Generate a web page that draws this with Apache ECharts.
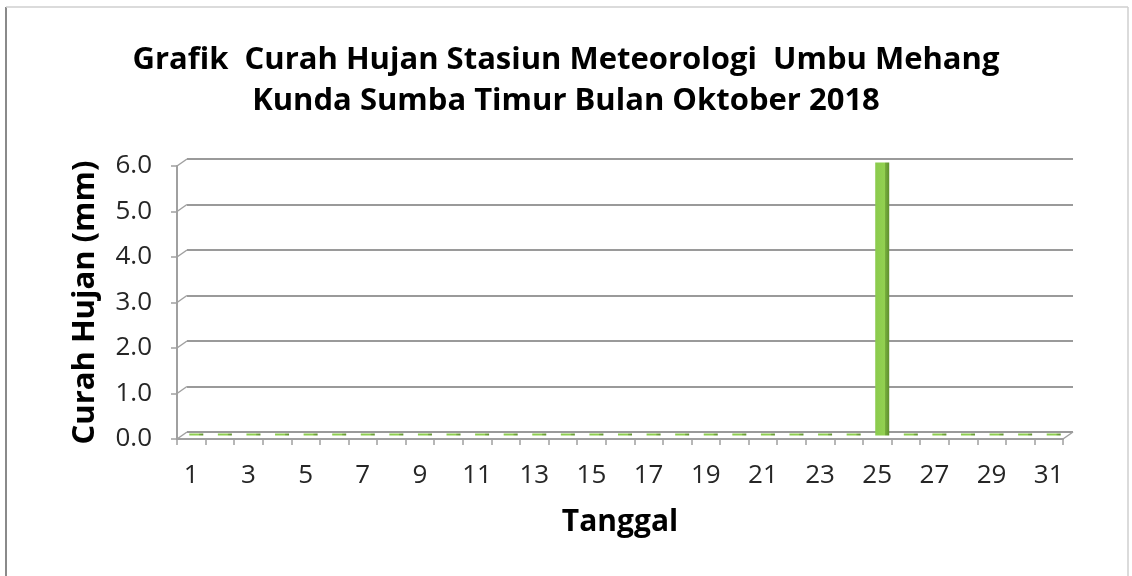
<!DOCTYPE html>
<html>
<head>
<meta charset="utf-8">
<script src="https://cdn.jsdelivr.net/npm/echarts@6/dist/echarts.min.js"></script>
<style>
html,body{margin:0;padding:0;background:#fff;}
#chart{width:1132px;height:576px;}
</style>
</head>
<body>
<div id="chart"></div>
<script>
// ---- data ----
var days = ['1','2','3','4','5','6','7','8','9','10','11','12','13','14','15','16','17','18','19','20','21','22','23','24','25','26','27','28','29','30','31'];
var rainfall = [0,0,0,0,0,0,0,0,0,0,0,0,0,0,0,0,0,0,0,0,0,0,0,0,6.0,0,0,0,0,0,0];
var yTicks = [0,1,2,3,4,5,6];
var titleText = 'Grafik  Curah Hujan Stasiun Meteorologi  Umbu Mehang\nKunda Sumba Timur Bulan Oktober 2018';
var yName = 'Curah Hujan (mm)';
var xName = 'Tanggal';

// ---- layout ----
var W = 1132, H = 576;
var front = {left:177, right:1063, top:166, bottom:439};
var dx = 10, dy = -7;
var back = {left:front.left+dx, right:front.right+dx, top:front.top+dy, bottom:front.bottom+dy};
var mid = {left:front.left+dx/2, right:front.right+dx/2, top:front.top+dy/2, bottom:front.bottom+dy/2};
function g(r){return {left:r.left, top:r.top, width:r.right-r.left, height:r.bottom-r.top, containLabel:false};}

var FONT = '"Open Sans", Lato, sans-serif';
var axisGray = '#a0a0a0';
var yMin = yTicks[0], yMax = yTicks[yTicks.length-1];
var tickFont = {fontFamily:FONT, fontSize:26, fontWeight:'normal', color:'#262626'};

var chart = echarts.init(document.getElementById('chart'), null, {renderer:'canvas'});
var option = {
  backgroundColor:'#fff',
  animation:false,
  textStyle:{fontFamily:FONT},
  title:{
    text:titleText, left:'center', top:35,
    textStyle:{fontFamily:FONT, fontWeight:'bold', fontSize:31, lineHeight:41, color:'#000'}
  },
  grid:[g(front), g(back), g(mid)],
  xAxis:[
    {gridIndex:0, type:'category', data:days, boundaryGap:true,
     name:xName, nameLocation:'middle', nameGap:68,
     nameTextStyle:{fontFamily:FONT, fontWeight:'bold', fontSize:30, color:'#000'},
     axisLine:{lineStyle:{color:axisGray, width:2}},
     axisTick:{show:true, interval:0, length:6, lineStyle:{color:axisGray, width:1.5}},
     axisLabel:Object.assign({interval:1, margin:24}, tickFont),
     splitLine:{show:false}},
    {gridIndex:1, type:'category', data:days, show:false},
    {gridIndex:2, type:'category', data:days, show:false}
  ],
  yAxis:[
    {gridIndex:0, type:'value', min:yMin, max:yMax, interval:1,
     name:yName, nameLocation:'middle', nameGap:76, nameRotate:90,
     nameTextStyle:{fontFamily:FONT, fontWeight:'bold', fontSize:31, color:'#000'},
     axisLine:{show:true, lineStyle:{color:axisGray, width:2}},
     axisTick:{show:true, length:6, lineStyle:{color:axisGray, width:1.5}},
     axisLabel:Object.assign({margin:25, formatter:function(v){return v.toFixed(1);}}, tickFont),
     splitLine:{show:false}},
    {gridIndex:1, type:'value', min:yMin, max:yMax, interval:1,
     axisLine:{show:false}, axisTick:{show:false}, axisLabel:{show:false},
     splitLine:{show:true, lineStyle:{color:'#9a9a9a', width:2}}},
    {gridIndex:2, type:'value', min:yMin, max:yMax, interval:1, show:false, splitLine:{show:false}}
  ],
  series:[{
    type:'bar', xAxisIndex:2, yAxisIndex:2, data:rainfall,
    barWidth:14, barMinHeight:2,
    itemStyle:{
      color:new echarts.graphic.LinearGradient(0,0,1,0,[
        {offset:0, color:'#8bcb4e'},
        {offset:0.68, color:'#92d050'},
        {offset:0.72, color:'#76ad3c'},
        {offset:1, color:'#5e8f2e'}
      ])
    }
  }]
};
chart.setOption(option);

// decorative depth connectors, positioned through the library's scales
var gfx = [];
yTicks.forEach(function(v){
  var yf = chart.convertToPixel({yAxisIndex:0}, v);
  var yb = chart.convertToPixel({yAxisIndex:1}, v);
  gfx.push({type:'line', shape:{x1:front.left, y1:yf, x2:back.left, y2:yb},
    style:{stroke:axisGray, lineWidth:1.5}, z:5});
});
var yf0 = chart.convertToPixel({yAxisIndex:0}, yMin);
var yb0 = chart.convertToPixel({yAxisIndex:1}, yMin);
gfx.push({type:'line', shape:{x1:front.right, y1:yf0, x2:back.right, y2:yb0},
  style:{stroke:axisGray, lineWidth:1.5}, z:5});
// outer frame
gfx.push({type:'line', shape:{x1:6, y1:7, x2:6, y2:H}, style:{stroke:'#8a8a8a', lineWidth:2}, z:5});
gfx.push({type:'line', shape:{x1:6, y1:7, x2:1128, y2:7}, style:{stroke:'#cfcfcf', lineWidth:1.5}, z:5});
gfx.push({type:'line', shape:{x1:1128, y1:7, x2:1128, y2:H}, style:{stroke:'#cfcfcf', lineWidth:1.5}, z:5});
chart.setOption({graphic:gfx});
</script>
</body>
</html>
